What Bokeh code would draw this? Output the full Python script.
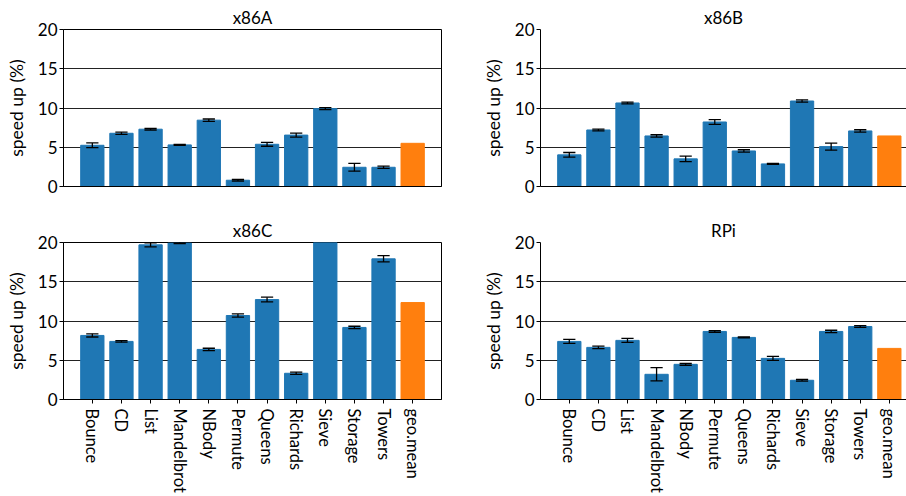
import numpy as np
from bokeh.plotting import figure
from bokeh.models import ColumnDataSource, Range1d, FixedTicker
from bokeh.layouts import column, row
from bokeh.embed import file_html
from bokeh.resources import INLINE

benchmarks = ["Bounce", "CD", "List", "Mandelbrot", "NBody", "Permute",
              "Queens", "Richards", "Sieve", "Storage", "Towers", "geo.mean"]

NaN = float("nan")

x86A_speedup = [5.25, 6.78, 7.30, 5.30, 8.45, 0.80, 5.38, 6.55, 9.92, 2.45, 2.45, 5.50]
x86A_err     = [0.30, 0.15, 0.10, 0.07, 0.15, 0.10, 0.25, 0.25, 0.12, 0.50, 0.15, NaN]

x86B_speedup = [4.03, 7.20, 10.64, 6.44, 3.52, 8.22, 4.53, 2.88, 10.89, 5.08, 7.08, 6.44]
x86B_err     = [0.30, 0.12, 0.12, 0.15, 0.35, 0.30, 0.15, 0.07, 0.15, 0.45, 0.15, NaN]

x86C_speedup = [8.16, 7.40, 19.70, 19.95, 6.38, 10.70, 12.73, 3.34, 24.0, 9.18, 17.92, 12.35]
x86C_err     = [0.20, 0.10, 0.25, 0.10, 0.15, 0.20, 0.30, 0.15, 0.30, 0.15, 0.40, NaN]

RPi_speedup  = [7.40, 6.64, 7.53, 3.21, 4.48, 8.67, 7.91, 5.24, 2.45, 8.67, 9.30, 6.51]
RPi_err      = [0.25, 0.15, 0.25, 0.85, 0.12, 0.10, 0.05, 0.25, 0.10, 0.15, 0.12, NaN]

y_ticks = [0, 5, 10, 15, 20]

BLUE = "#1f77b4"
ORANGE = "#ff7f0e"
FONT = "Lato"
TXT = "#000000"


def make_panel(title, values, errs, frame_w, mb_left, mb_right, mb_top,
               mb_bottom, x_end, show_labels, right_spine):
    n = len(benchmarks)
    xs = np.arange(n)
    vals = np.array(values, dtype=float)
    er = np.array(errs, dtype=float)
    colors = [ORANGE if b == "geo.mean" else BLUE for b in benchmarks]
    src = ColumnDataSource(dict(
        x=xs, top=vals, color=colors,
        lo=vals - er, hi=vals + er,
        cl=xs - 0.21, cr=xs + 0.21,
    ))
    p = figure(frame_width=frame_w, frame_height=157, output_backend="svg",
               toolbar_location=None, x_range=Range1d(-0.99, x_end),
               y_range=Range1d(0, 20), min_border_left=mb_left,
               min_border_right=mb_right, min_border_top=mb_top,
               min_border_bottom=mb_bottom)
    p.title.text = title
    p.title.align = "center"
    p.title.text_font = FONT
    p.title.text_font_size = "17px"
    p.title.text_font_style = "normal"
    p.title.text_color = TXT
    p.title.standoff = 4
    p.vbar(x="x", top="top", width=0.8, color="color", source=src)
    p.segment(x0="x", y0="lo", x1="x", y1="hi", line_color="black",
              line_width=1.3, source=src)
    p.segment(x0="cl", y0="hi", x1="cr", y1="hi", line_color="black",
              line_width=1.3, source=src)
    p.segment(x0="cl", y0="lo", x1="cr", y1="lo", line_color="black",
              line_width=1.3, source=src)

    p.xgrid.grid_line_color = None
    p.ygrid.ticker = FixedTicker(ticks=y_ticks)
    p.ygrid.grid_line_color = "#222222"
    p.ygrid.grid_line_width = 1
    p.ygrid.grid_line_alpha = 1.0

    ya = p.yaxis[0]
    ya.ticker = FixedTicker(ticks=y_ticks)
    ya.axis_label = "speed up (%)"
    ya.axis_label_text_font = FONT
    ya.axis_label_text_font_size = "17.5px"
    ya.axis_label_text_font_style = "normal"
    ya.axis_label_text_color = TXT
    ya.axis_label_standoff = 8
    ya.major_label_text_font = FONT
    ya.major_label_text_font_size = "17px"
    ya.major_label_text_color = TXT
    ya.major_label_standoff = 2
    ya.major_tick_out = 4
    ya.major_tick_in = 0
    ya.minor_tick_out = 0
    ya.minor_tick_in = 0
    ya.axis_line_color = "black"
    ya.major_tick_line_color = "black"

    xa = p.xaxis[0]
    xa.ticker = FixedTicker(ticks=list(xs))
    xa.minor_tick_out = 0
    xa.minor_tick_in = 0
    xa.major_tick_in = 0
    xa.axis_line_color = "black"
    xa.major_tick_line_color = "black"
    if show_labels:
        xa.major_tick_out = 4
        xa.major_label_overrides = {int(i): b for i, b in zip(xs, benchmarks)}
        xa.major_label_orientation = -np.pi / 2
        xa.major_label_standoff = 5
        xa.major_label_text_font = FONT
        xa.major_label_text_font_size = "16.5px"
        xa.major_label_text_color = TXT
    else:
        xa.major_tick_out = 0
        xa.major_label_overrides = {int(i): "" for i in xs}
        xa.major_label_standoff = 0
        xa.major_label_text_font_size = "1px"

    p.outline_line_color = "black" if right_spine else None
    p.background_fill_color = "white"
    p.border_fill_color = "white"
    return p


p1 = make_panel("x86A", x86A_speedup, x86A_err, 378, 63, 12, 29, 29,
                11.99, False, True)
p2 = make_panel("x86B", x86B_speedup, x86B_err, 366, 87, 0, 29, 29,
                11.59, False, False)
p3 = make_panel("x86C", x86C_speedup, x86C_err, 378, 63, 12, 26, 98,
                11.99, True, True)
p4 = make_panel("RPi", RPi_speedup, RPi_err, 366, 87, 0, 26, 98,
                11.59, True, False)

layout = column(row(p1, p2), row(p3, p4))
open("out.html", "w").write(file_html(layout, INLINE))
